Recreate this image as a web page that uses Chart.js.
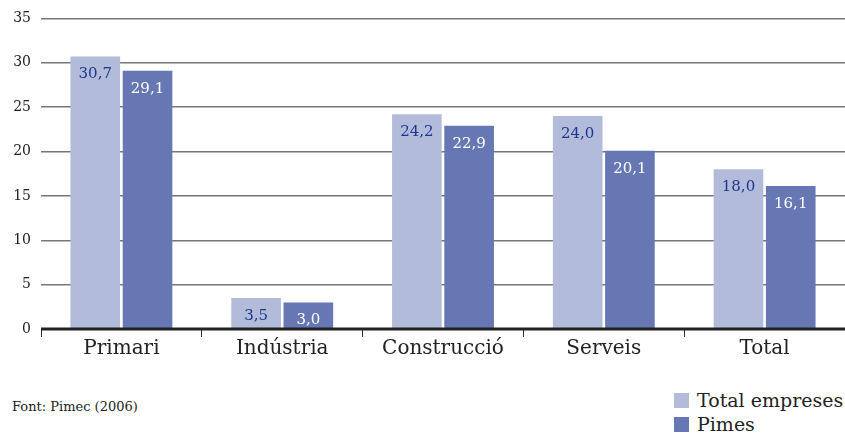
<!DOCTYPE html>
<html>
<head>
<meta charset="utf-8">
<script src="https://cdn.jsdelivr.net/npm/chart.js@4.4.0/dist/chart.umd.min.js"></script>
<style>
  html, body { margin: 0; padding: 0; background: #ffffff; }
  #wrap { position: relative; width: 845px; height: 435px; overflow: hidden; }
  #chartBox { position: absolute; left: 0; top: 0; width: 845px; height: 361px; }
  .font { position: absolute; left: 12px; top: 399px; font: 13px 'DejaVu Serif', serif; color: #222; }
  .legend { position: absolute; left: 674px; top: 388px; font: 19px 'DejaVu Serif', serif; color: #222; }
  .legend div { height: 24px; line-height: 24px; white-space: nowrap; }
  .legend span { display: inline-block; width: 15px; height: 15px; margin-right: 8px; vertical-align: -1px; }
</style>
</head>
<body>
<div id="wrap">
  <div id="chartBox"><canvas id="barChart"></canvas></div>
  <div class="font">Font: Pimec (2006)</div>
  <div class="legend">
    <div><span style="background:#b2bcda"></span>Total empreses</div>
    <div><span style="background:#6677b3"></span>Pimes</div>
  </div>
</div>
<script>
// ===========================
// DATA
// ===========================
const categories = ['Primari', 'Indústria', 'Construcció', 'Serveis', 'Total'];
const totalEmpreses = [30.7, 3.5, 24.2, 24.0, 18.0];
const pimes = [29.1, 3.0, 22.9, 20.1, 16.1];
const yTicks = [0, 5, 10, 15, 20, 25, 30, 35];

const lightBlue = '#b2bcda';
const darkBlue = '#6677b3';

// draw value labels inside the top of each bar (comma decimals)
const valueLabels = {
    id: 'valueLabels',
    afterDatasetsDraw(chart) {
        const ctx = chart.ctx;
        ctx.save();
        ctx.font = '15px "DejaVu Serif", serif';
        ctx.textAlign = 'center';
        ctx.textBaseline = 'middle';
        chart.data.datasets.forEach((ds, i) => {
            const meta = chart.getDatasetMeta(i);
            ctx.fillStyle = i === 0 ? '#1c3590' : '#ffffff';
            meta.data.forEach((bar, j) => {
                const txt = ds.data[j].toFixed(1).replace('.', ',');
                ctx.fillText(txt, bar.x, bar.y + 18);
            });
        });
        ctx.restore();
    }
};

// thick zero line
const zeroLine = {
    id: 'zeroLine',
    afterDatasetsDraw(chart) {
        const { ctx, chartArea, scales } = chart;
        const y = scales.y.getPixelForValue(0);
        ctx.save();
        ctx.strokeStyle = '#222';
        ctx.lineWidth = 3;
        ctx.beginPath();
        ctx.moveTo(chartArea.left, y);
        ctx.lineTo(chartArea.right, y);
        ctx.stroke();
        ctx.restore();
    }
};

new Chart(document.getElementById('barChart'), {
    type: 'bar',
    data: {
        labels: categories,
        datasets: [
            {
                label: 'Total empreses',
                data: totalEmpreses,
                backgroundColor: lightBlue,
                categoryPercentage: 0.65,
                barPercentage: 0.95
            },
            {
                label: 'Pimes',
                data: pimes,
                backgroundColor: darkBlue,
                categoryPercentage: 0.65,
                barPercentage: 0.95
            }
        ]
    },
    options: {
        responsive: true,
        maintainAspectRatio: false,
        animation: false,
        layout: { padding: { top: 18, right: 0, left: 0, bottom: 0 } },
        plugins: {
            legend: { display: false },
            tooltip: { enabled: false }
        },
        scales: {
            x: {
                offset: true,
                grid: {
                    offset: true,
                    drawOnChartArea: false,
                    drawTicks: true,
                    tickLength: 8,
                    color: '#333',
                    lineWidth: 1
                },
                border: { display: false },
                ticks: {
                    color: '#222',
                    padding: 0,
                    font: { family: 'DejaVu Serif', size: 20 }
                }
            },
            y: {
                min: 0,
                max: 35,
                afterFit(scale) { scale.width = 41; },
                afterBuildTicks(scale) { scale.ticks = yTicks.map(v => ({ value: v })); },
                grid: {
                    color: '#777',
                    lineWidth: 1.5,
                    drawTicks: false
                },
                border: { display: false },
                ticks: {
                    color: '#222',
                    padding: 10,
                    font: { family: 'DejaVu Serif', size: 14 }
                }
            }
        }
    },
    plugins: [valueLabels, zeroLine]
});
</script>
</body>
</html>
